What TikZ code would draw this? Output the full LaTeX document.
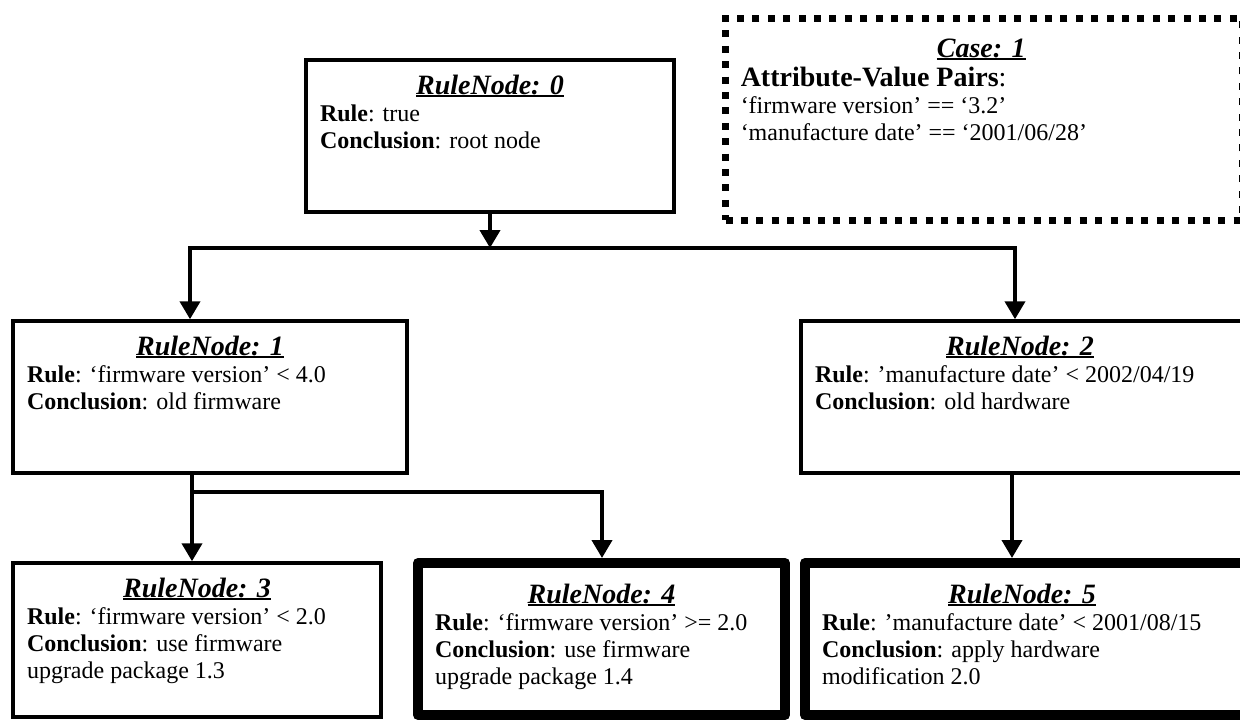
\documentclass[tikz,border=0pt]{standalone}
\usepackage{fontspec}
\setmainfont{Liberation Serif}
\usetikzlibrary{arrows.meta}
\newlength\px \setlength\px{0.75pt}
\newsavebox\ulbox
\newcommand\ultitle[1]{\sbox\ulbox{\fontsize{21pt}{24pt}\selectfont\bfseries\itshape #1}\usebox\ulbox\llap{\rule[-2.6pt]{\wd\ulbox}{1.6pt}}}
% #1 text width px, #2 text height px, #3 title, #4 body, #5 title box shrink px
\newcommand\boxtext[5]{%
 \begin{minipage}[c][#2\px][t]{#1\px}\fontsize{18pt}{20.25pt}\selectfont
 \makebox[\dimexpr\linewidth-#5\px\relax]{\rule{0pt}{24\px}\ultitle{#3}}\\
 #4
 \end{minipage}}
\tikzset{
 rbox/.style={draw, line width=2.6pt, inner sep=0pt, line join=miter, fill=white},
 tbox/.style={draw, line width=7.5pt, inner sep=0pt, line join=round, fill=white},
 casebox/.style={draw, line width=5.25pt, inner sep=0pt, line cap=butt, dash pattern=on 5.25pt off 6.3pt},
 ln/.style={line width=3pt, line cap=rect},
 arr/.style={ln, -{Triangle[width=15pt,length=13.5pt]}},
}
\begin{document}
\begin{tikzpicture}[x=0.75pt,y=-0.75pt]
\useasboundingbox (0,0) rectangle (1240,721);
\fill[white] (0,0) rectangle (1240,721);
\clip (0,0) rectangle (1240,721);

% case box
\node[casebox, minimum width=516.5*\px, minimum height=202*\px] (case) at (983.75,119)
 {\boxtext{486}{172}{Case: 1}{\rule{0pt}{0pt}\\[-24.25\px]{\fontsize{21pt}{24pt}\selectfont\textbf{Attribute-Value Pairs}:}\\
 ‘firmware version’ == ‘3.2’\\
 ‘manufacture date’ == ‘2001/06/28’}{5}};

% rule nodes
\node[rbox, minimum width=368*\px, minimum height=152*\px] (n0) at (490,136)
 {\boxtext{340}{132}{RuleNode: 0}{\textbf{Rule}: true\\ \textbf{Conclusion}: root node}{0}};
\node[rbox, minimum width=394*\px, minimum height=152*\px] (n1) at (210,397)
 {\boxtext{366}{132}{RuleNode: 1}{\textbf{Rule}: ‘firmware version’ < 4.0\\ \textbf{Conclusion}: old firmware}{0}};
\node[rbox, minimum width=451*\px, minimum height=152*\px] (n2) at (1026.5,397)
 {\boxtext{423}{132}{RuleNode: 2}{\textbf{Rule}: ’manufacture date’ < 2002/04/19\\ \textbf{Conclusion}: old hardware}{13}};
\node[rbox, minimum width=368*\px, minimum height=154*\px] (n3) at (197,640)
 {\boxtext{340}{134}{RuleNode: 3}{\textbf{Rule}: ‘firmware version’ < 2.0\\ \textbf{Conclusion}: use firmware\\ upgrade package 1.3}{0}};
\node[tbox, minimum width=367*\px, minimum height=152*\px] (n4) at (601.5,639)
 {\boxtext{333}{120}{RuleNode: 4}{\textbf{Rule}: ‘firmware version’ >= 2.0\\ \textbf{Conclusion}: use firmware\\ upgrade package 1.4}{0}};
\node[tbox, minimum width=452*\px, minimum height=152*\px] (n5) at (1031,639)
 {\boxtext{418}{120}{RuleNode: 5}{\textbf{Rule}: ’manufacture date’ < 2001/08/15\\ \textbf{Conclusion}: apply hardware\\ modification 2.0}{18}};

% junction coordinates
\coordinate (jL) at (190,248);
\coordinate (jR) at (1015,248);
\coordinate (kL) at (192,492);
\coordinate (kR) at (602,492);
\coordinate (k5) at (1012,0);

% connectors
\draw[arr] (n0.south) -- (n0.south |- jL);
\draw[ln] (jL) -- (jR);
\draw[arr] (jL) -- (jL |- n1.north);
\draw[arr] (jR) -- (jR |- n2.north);
\draw[ln] (n1.south -| kL) -- (kL);
\draw[ln] (kL) -- (kR);
\draw[arr] (kL) -- (kL |- n3.north);
\draw[arr] (kR) -- (kR |- n4.north);
\draw[arr] (n2.south -| k5) -- (k5 |- n5.north);
\end{tikzpicture}
\end{document}
